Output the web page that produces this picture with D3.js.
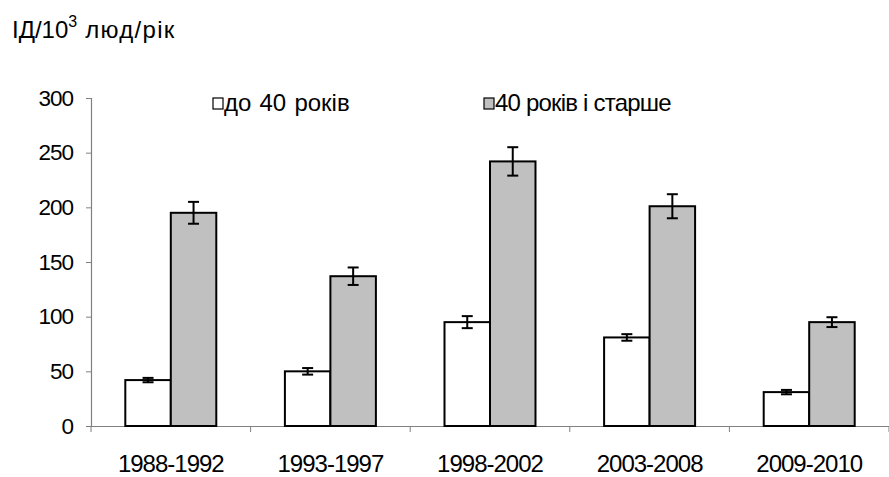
<!DOCTYPE html>
<html><head><meta charset="utf-8">
<script src="https://cdn.jsdelivr.net/npm/d3@7"></script>
<style>body{margin:0;background:#fff}svg{display:block;font-family:Arial,"Liberation Sans",sans-serif}</style>
</head><body>
<svg id="c" width="889" height="477"></svg>
<script>
const categories = ["1988-1992","1993-1997","1998-2002","2003-2008","2009-2010"];
const seriesNames = ["до 40 років","40 років і старше"];
const youngValues = [42, 50, 95, 81, 31];
const youngErrors = [2, 3, 5.5, 3, 2];
const oldValues = [195, 137, 242, 201, 95];
const oldErrors = [10, 8, 13, 11, 4.5];
const yTicks = [0, 50, 100, 150, 200, 250, 300];

const svg = d3.select("#c");
const x0 = d3.scaleBand().domain(categories).range([91, 889]).padding(0);
const x1 = d3.scaleBand().domain(seriesNames).range([0, x0.bandwidth()]).paddingInner(0).paddingOuter(0.754);
const y = d3.scaleLinear().domain([0, 300]).range([426, 98]);
const fills = ["#ffffff", "#c0c0c0"];

// axes
const yAxis = svg.append("g").attr("transform","translate(91,0)")
  .call(d3.axisLeft(y).tickValues(yTicks).tickSize(5).tickPadding(13));
const xAxis = svg.append("g").attr("transform","translate(0,426)")
  .call(d3.axisBottom(x0).tickSize(0).tickPadding(29));
[yAxis, xAxis].forEach(g => {
  g.selectAll("path.domain").attr("stroke","#808080").attr("stroke-width",1.2);
  g.selectAll(".tick line").attr("stroke","#808080");
  g.selectAll("text").attr("fill","#000").attr("font-family","Arial, 'Liberation Sans', sans-serif").attr("letter-spacing",-1);
});
yAxis.selectAll("text").attr("font-size",22.5);
xAxis.selectAll("text").attr("font-size",24);
// x boundary ticks
const bounds = categories.map(c => x0(c)).concat([x0.range()[1]]);
xAxis.selectAll("line.bt").data(bounds).enter().append("line").attr("class","bt")
  .attr("x1",d=>d).attr("x2",d=>d).attr("y1",0).attr("y2",6).attr("stroke","#808080");

// bars
const rows = categories.map((c,i)=>({c, vals:[youngValues[i], oldValues[i]], errs:[youngErrors[i], oldErrors[i]]}));
const g = svg.append("g");
rows.forEach(r => {
  r.vals.forEach((v,j) => {
    const bx = x0(r.c) + x1(seriesNames[j]);
    g.append("rect").attr("x", bx).attr("y", y(v)).attr("width", x1.bandwidth()).attr("height", y(0)-y(v))
      .attr("fill", fills[j]).attr("stroke","#000").attr("stroke-width",2);
  });
});
rows.forEach(r => {
  r.vals.forEach((v,j) => {
    const cx = x0(r.c) + x1(seriesNames[j]) + x1.bandwidth()/2;
    const e = r.errs[j];
    const eg = g.append("g").attr("stroke","#000").attr("stroke-width",2);
    eg.append("line").attr("x1",cx).attr("x2",cx).attr("y1",y(v+e)).attr("y2",y(v-e));
    eg.append("line").attr("x1",cx-5.5).attr("x2",cx+5.5).attr("y1",y(v+e)).attr("y2",y(v+e));
    eg.append("line").attr("x1",cx-5.5).attr("x2",cx+5.5).attr("y1",y(v-e)).attr("y2",y(v-e));
  });
});

// legend
const legX = [213, 484];
const legSpacing = [0, -0.8];
const legWord = [1.5, 0];
seriesNames.forEach((n,j) => {
  svg.append("rect").attr("x",legX[j]).attr("y",98).attr("width",10).attr("height",11)
    .attr("fill",fills[j]).attr("stroke","#000").attr("stroke-width",1.2);
  svg.append("text").attr("x",legX[j]+11).attr("y",111).attr("font-size",24)
    .attr("letter-spacing",legSpacing[j]).attr("word-spacing",legWord[j]).text(n);
});

// y title
const t = svg.append("text").attr("x",12).attr("y",38).attr("font-size",24);
t.append("tspan").text("ІД/10");
t.append("tspan").attr("dy",-11).attr("font-size",16).text("3");
t.append("tspan").attr("dy",11).attr("letter-spacing",1.3).text(" люд/рік");
</script>
</body></html>
